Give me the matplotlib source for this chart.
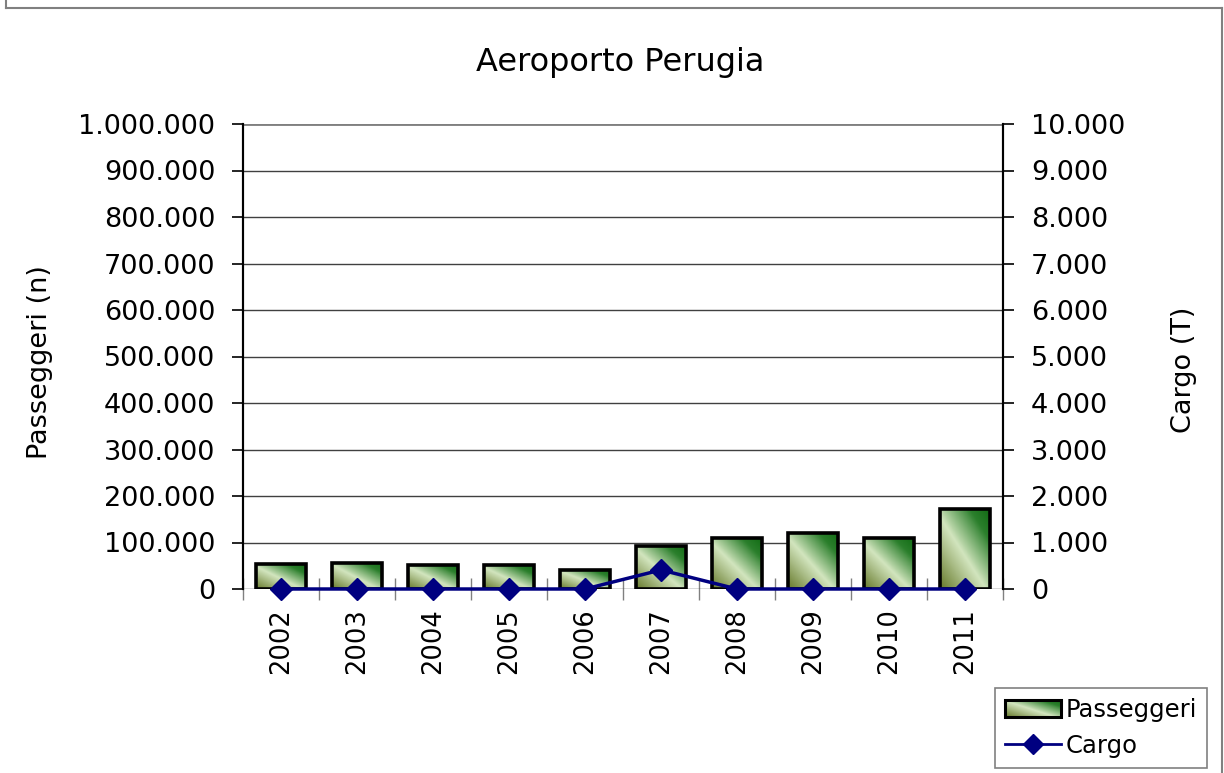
import matplotlib
matplotlib.use("Agg")
import matplotlib.pyplot as plt
import numpy as np
from matplotlib.colors import LinearSegmentedColormap
from matplotlib.lines import Line2D
from matplotlib.patches import Rectangle
from matplotlib.ticker import FuncFormatter, MultipleLocator, FixedLocator
from matplotlib.legend_handler import HandlerBase
from matplotlib.image import BboxImage
from matplotlib.transforms import Bbox, TransformedBbox

years = ["2002", "2003", "2004", "2005", "2006", "2007", "2008", "2009", "2010", "2011"]
passeggeri = [53000, 56500, 52000, 51500, 41500, 92500, 109500, 121000, 109500, 172000]
cargo = [0, 0, 0, 0, 0, 410, 0, 0, 0, 0]

plt.rcParams['font.family'] = ['DejaVu Sans']

W, H = 1224, 773
fig = plt.figure(figsize=(W / 100, H / 100), dpi=100)
ax = fig.add_axes([243 / W, 1 - 589 / H, (1003 - 243) / W, (589 - 124) / H])
ax2 = ax.twinx()

x = np.arange(len(years))
cmap = LinearSegmentedColormap.from_list(
    "barg", [(0.0, "#66792a"), (0.45, "#d2e5be"), (0.8, "#2b7f2c"), (1.0, "#106b13")])

bars = ax.bar(x, passeggeri, width=0.67, facecolor="none", edgecolor="black",
              linewidth=2.6, zorder=3)

uu, vv = np.meshgrid(np.linspace(0, 1, 64), np.linspace(0, 1, 64))
grad = (uu + vv) / 2.0
for r in bars:
    x0, y0, w, h = r.get_x(), r.get_y(), r.get_width(), r.get_height()
    im = ax.imshow(grad, cmap=cmap, extent=[x0, x0 + w, y0, y0 + h],
                   origin="lower", aspect="auto", zorder=2, interpolation="bilinear")
    im.set_clip_path(r)
ax.set_xlim(-0.5, len(years) - 0.5)
ax.set_ylim(0, 1000000)
ax.set_aspect("auto")

ax2.plot(x, cargo, color="#000080", linewidth=2.5, marker="D", markersize=11,
         zorder=5, clip_on=False)
ax2.set_ylim(0, 10000)

def fmt(v, p):
    return "{:,.0f}".format(v).replace(",", ".")

ax.yaxis.set_major_locator(MultipleLocator(100000))
ax.yaxis.set_major_formatter(FuncFormatter(fmt))
ax2.yaxis.set_major_locator(MultipleLocator(1000))
ax2.yaxis.set_major_formatter(FuncFormatter(fmt))

ax.grid(axis="y", color="#404040", linewidth=1.0, zorder=0)
ax.set_axisbelow(True)

ax.set_xticks(x, years)
ax.tick_params(axis="x", which="major", length=0, pad=14, labelsize=18.5, labelrotation=90)
ax.xaxis.set_minor_locator(FixedLocator(np.arange(-0.5, len(years), 1.0)))
ax.tick_params(axis="x", which="minor", length=16, direction="inout", color="#808080", width=1)
ax.tick_params(axis="y", labelsize=19.5, length=8, width=1.2, pad=12)
ax2.tick_params(axis="y", labelsize=19.5, length=8, width=1.2, pad=12)

for a in (ax, ax2):
    a.spines["top"].set_visible(False)
    a.spines["bottom"].set_visible(False)
    a.spines["left"].set_linewidth(1.5)
    a.spines["right"].set_linewidth(1.5)
ax.axhline(1000000, color="#808080", linewidth=2, zorder=1)

ax.set_zorder(ax2.get_zorder() - 1)
ax.patch.set_visible(True)
ax2.patch.set_visible(False)

fig.text(620 / W, 1 - 63 / H, "Aeroporto Perugia", ha="center", va="center", fontsize=23)
fig.text(40 / W, 1 - 362 / H, "Passeggeri (n)", ha="center", va="center",
         rotation=90, fontsize=19.5)
fig.text(1184 / W, 1 - 370 / H, "Cargo (T)", ha="center", va="center",
         rotation=90, fontsize=19.5)


class GradHandler(HandlerBase):
    def create_artists(self, legend, orig_handle, xdescent, ydescent, width,
                       height, fontsize, trans):
        bb = TransformedBbox(Bbox.from_bounds(-xdescent, -ydescent, width, height), trans)
        img = BboxImage(bb, cmap=cmap, interpolation="bilinear", origin="lower")
        img.set_data(grad)
        rect = Rectangle((-xdescent, -ydescent), width, height, facecolor="none",
                         edgecolor="black", linewidth=2.2, transform=trans)
        return [img, rect]


h1 = Rectangle((0, 0), 1, 1)
h2 = Line2D([], [], color="#000080", linewidth=2, marker="D", markersize=10)
leg = fig.legend([h1, h2], ["Passeggeri", "Cargo"], loc="upper left",
                 bbox_to_anchor=(995 / W, 1 - 688 / H), fontsize=17.5, frameon=True,
                 fancybox=False, edgecolor="#808080", framealpha=1,
                 borderaxespad=0, handlelength=2.3, handletextpad=0.2,
                 borderpad=0.4, labelspacing=0.5,
                 handler_map={Rectangle: GradHandler()})
leg.get_frame().set_linewidth(1.2)

for (xa, ya) in [((6, 6), (0, 8)), ((6, 1222), (8, 8)), ((1222, 1222), (8, 773))]:
    fig.add_artist(Line2D([xa[0] / W, xa[1] / W], [1 - ya[0] / H, 1 - ya[1] / H],
                          color="#808080", linewidth=1.5, transform=fig.transFigure))

fig.savefig("out.png", dpi=100)
